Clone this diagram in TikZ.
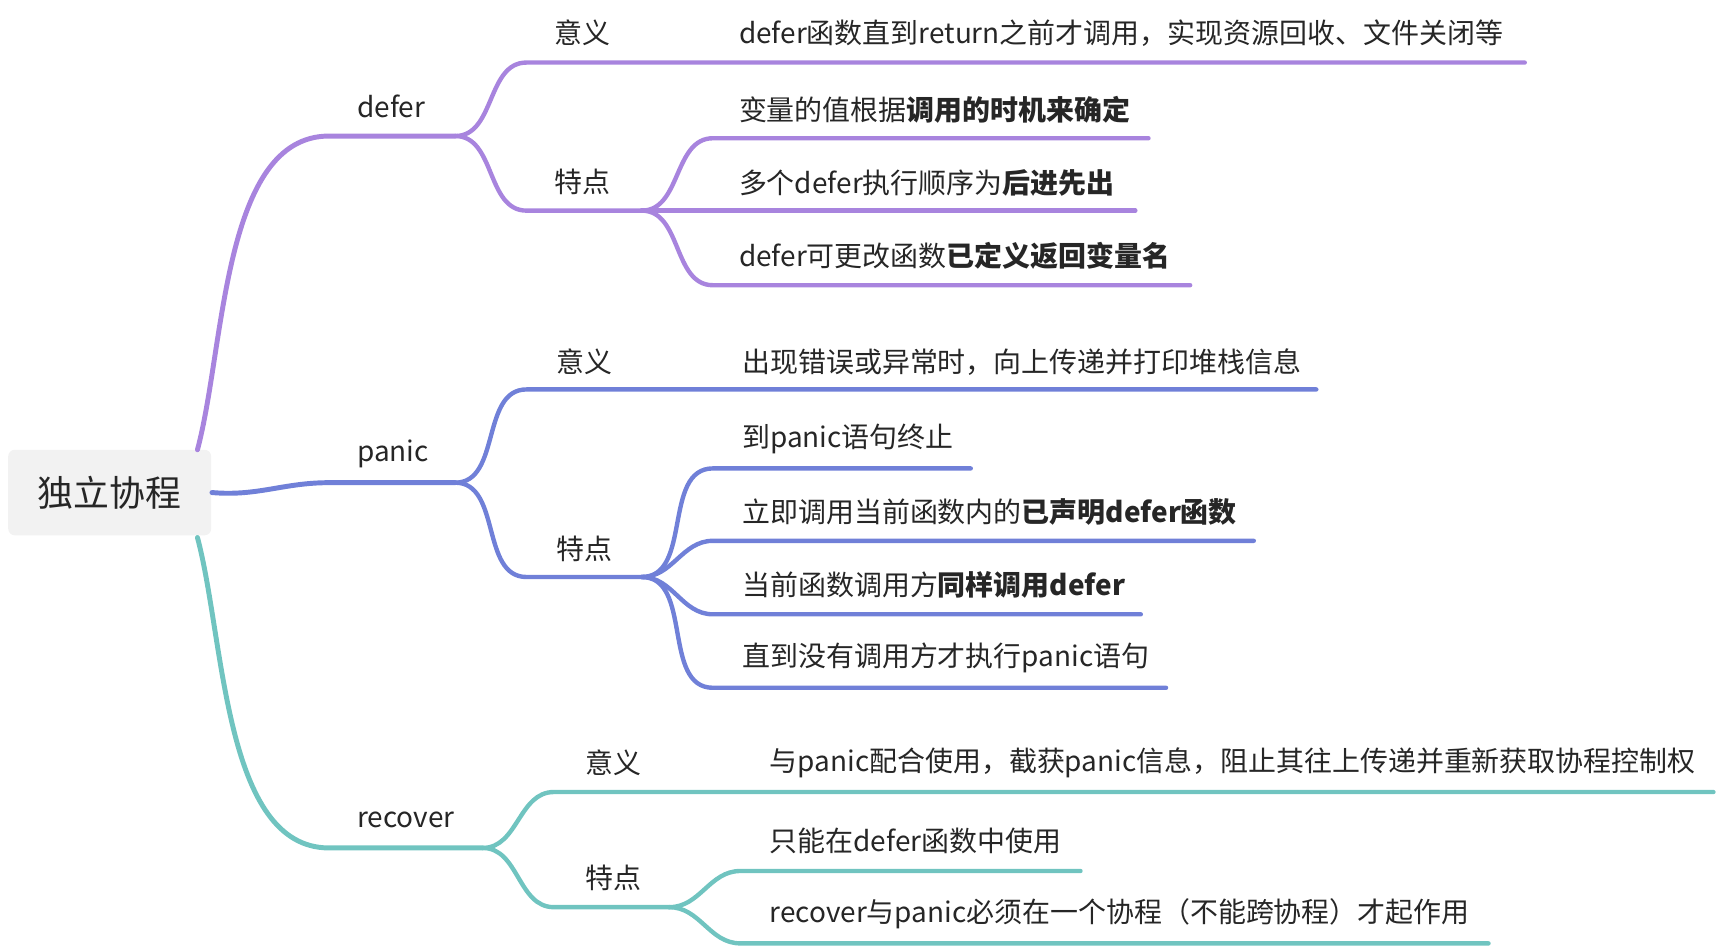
\documentclass[tikz,border=0pt]{standalone}
\usepackage{fontspec}
\setmainfont{Noto Sans CJK SC}
\usetikzlibrary{positioning}
\definecolor{cdefer}{RGB}{168,132,222}
\definecolor{cpanic}{RGB}{112,128,216}
\definecolor{crecover}{RGB}{112,196,192}
\tikzset{
    branch/.style = {line width=0.45mm, line cap=round},
    twig/.style   = {line width=0.4mm, line cap=round},
    lbl/.style    = {anchor=west, inner sep=0pt, font=\fontsize{7.25}{9}\selectfont, text=black!85},
    rootbox/.style = {fill=black!5, rounded corners=0.6mm, minimum width=18.5mm,
            minimum height=7.8mm, font=\fontsize{9.3}{11}\selectfont, text=black!85},
}
\begin{document}
\begin{tikzpicture}[x=0.1mm, y=-0.1mm]
    \useasboundingbox (0,0) rectangle (1568,864);
    % root
    \node[rootbox] (root) at (100,449) {独立协程};

    % defer
    \coordinate (deferA) at (300,124);
    \coordinate (deferB) at (415,124);
    \node[lbl] (defer) at (325,97) {defer};
    \draw[branch, cdefer] (180,410) to[out=75,in=180,looseness=0.8] (deferA) -- (deferB);
    \node[lbl] (dyiyi) at (505,30) {意义};
    \node[lbl] (dtedian) at (505,166) {特点};
    \coordinate (dtd) at (585,192);
    \draw[twig, cdefer] (deferB) to[out=0,in=180] (480,57) -- (1390,57);
    \draw[twig, cdefer] (deferB) to[out=0,in=180] (480,192) -- (dtd);
    \draw[twig, cdefer] (dtd) to[out=0,in=180] (650,126) -- (1047,126);
    \draw[twig, cdefer] (dtd) -- (1035,192);
    \draw[twig, cdefer] (dtd) to[out=0,in=180] (650,260) -- (1085,260);
    \node[lbl] (d1) at (673,30) {defer函数直到return之前才调用，实现资源回收、文件关闭等};
    \node[lbl] (d2) at (673,100) {变量的值根据\textbf{调用的时机来确定}};
    \node[lbl] (d3) at (673,167) {多个defer执行顺序为\textbf{后进先出}};
    \node[lbl] (d4) at (673,233) {defer可更改函数\textbf{已定义返回变量名}};

    % panic
    \coordinate (panicA) at (300,440);
    \coordinate (panicB) at (415,440);
    \node[lbl] (panic) at (325,414) {panic};
    \draw[branch, cpanic] (root.east) to[out=-5,in=180] (panicA) -- (panicB);
    \node[lbl] (pyiyi) at (507,330) {意义};
    \node[lbl] (ptedian) at (507,500) {特点};
    \coordinate (ptd) at (585,526);
    \draw[twig, cpanic] (panicB) to[out=0,in=180] (480,355) -- (1200,355);
    \draw[twig, cpanic] (panicB) to[out=0,in=180] (480,526) -- (ptd);
    \draw[twig, cpanic] (ptd) to[out=0,in=180] (650,427) -- (885,427);
    \draw[twig, cpanic] (ptd) to[out=0,in=180] (650,493) -- (1143,493);
    \draw[twig, cpanic] (ptd) to[out=0,in=180] (650,560) -- (1040,560);
    \draw[twig, cpanic] (ptd) to[out=0,in=180] (650,627) -- (1063,627);
    \node[lbl] (p1) at (676,330) {出现错误或异常时，向上传递并打印堆栈信息};
    \node[lbl] (p2) at (676,400) {到panic语句终止};
    \node[lbl] (p3) at (676,467) {立即调用当前函数内的\textbf{已声明defer函数}};
    \node[lbl] (p4) at (676,533) {当前函数调用方\textbf{同样调用defer}};
    \node[lbl] (p5) at (676,600) {直到没有调用方才执行panic语句};

    % recover
    \coordinate (recA) at (300,773);
    \coordinate (recB) at (440,773);
    \node[lbl] (recover) at (325,747) {recover};
    \draw[branch, crecover] (180,490) to[out=-75,in=180,looseness=0.8] (recA) -- (recB);
    \node[lbl] (ryiyi) at (533,695) {意义};
    \node[lbl] (rtedian) at (533,800) {特点};
    \coordinate (rtd) at (610,827);
    \draw[twig, crecover] (recB) to[out=0,in=180] (505,722) -- (1562,722);
    \draw[twig, crecover] (recB) to[out=0,in=180] (505,827) -- (rtd);
    \draw[twig, crecover] (rtd) to[out=0,in=180] (675,794) -- (985,794);
    \draw[twig, crecover] (rtd) to[out=0,in=180] (675,860) -- (1357,860);
    \node[lbl] (r1) at (701,695) {与panic配合使用，截获panic信息，阻止其往上传递并重新获取协程控制权};
    \node[lbl] (r2) at (701,767) {只能在defer函数中使用};
    \node[lbl] (r3) at (701,833) {recover与panic必须在一个协程（不能跨协程）才起作用};
\end{tikzpicture}
\end{document}
